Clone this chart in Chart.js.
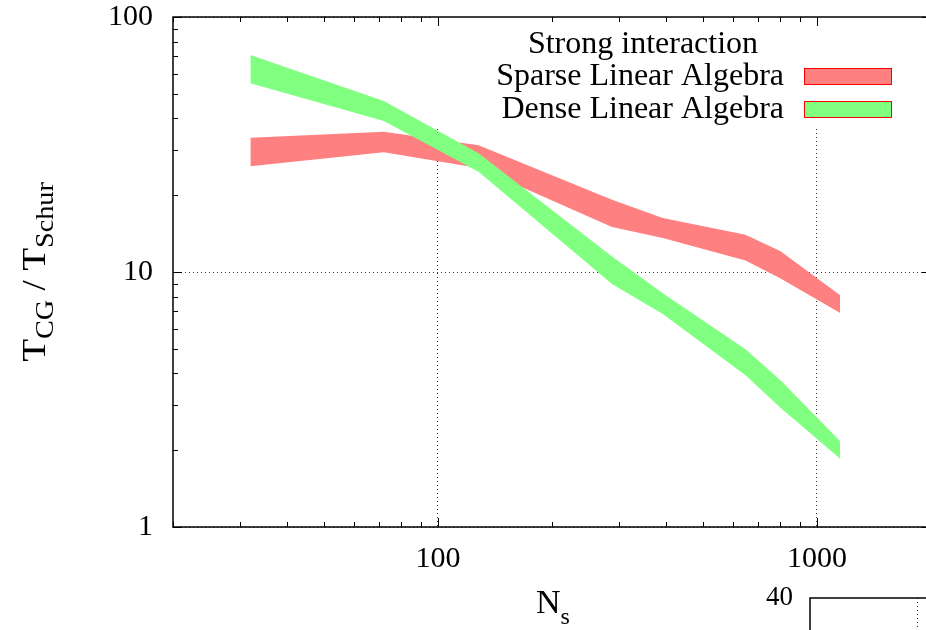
<!DOCTYPE html>
<html>
<head>
<meta charset="utf-8">
<script src="https://cdn.jsdelivr.net/npm/chart.js@4.4.1/dist/chart.umd.min.js"></script>
<style>
html, body { margin: 0; padding: 0; background: #fff; overflow: hidden; }
#wrap { position: relative; width: 926px; height: 630px; overflow: hidden; background: #fff; }
#main { position: absolute; left: 0; top: 0; }
#next { position: absolute; left: 700px; top: 580px; }
</style>
</head>
<body>
<div id="wrap">
  <canvas id="main" width="940" height="630"></canvas>
  <canvas id="next" width="330" height="300"></canvas>
</div>
<script>
// Data
const nsValues    = [32, 72, 128, 288, 392, 648, 800, 1152];
const sparseUpper = [33.6, 35.5, 31.4, 19.2, 16.3, 14.0, 12.1, 8.1];
const sparseLower = [26.0, 29.5, 25.6, 15.0, 13.6, 11.1, 9.45, 6.9];
const denseUpper  = [70.9, 46.8, 29.2, 11.5, 8.25, 4.98, 3.77, 2.17];
const denseLower  = [55.0, 39.1, 24.7, 8.97, 6.84, 3.94, 2.94, 1.85];

const seriesNames = ['Sparse Linear Algebra', 'Dense Linear Algebra'];
const legendTitle = 'Strong interaction';
const xRange = [20, 2000];
const yRange = [1, 100];

const sparseColor = 'rgb(255,128,128)';
const denseColor  = 'rgb(128,255,128)';
const SERIF = '"Liberation Serif", "Times New Roman", serif';

const isDecade = v => Math.abs(Math.log10(v) - Math.round(Math.log10(v))) < 1e-9;

function logTicks(min, max) {
  const out = [];
  for (let e = Math.floor(Math.log10(min)); e <= Math.ceil(Math.log10(max)); e++) {
    for (let s = 1; s < 10; s++) {
      const v = s * Math.pow(10, e);
      if (v >= min - 1e-9 && v <= max + 1e-9) out.push({ value: v, major: s === 1 });
    }
  }
  return out;
}

function band(values, color, fillTo) {
  return {
    data: nsValues.map((n, i) => ({ x: n, y: values[i] })),
    backgroundColor: color,
    borderColor: 'rgba(0,0,0,0)',
    borderWidth: 0,
    pointRadius: 0,
    fill: fillTo
  };
}

// draws text with a subscript part, stretched a bit along the line
function drawSub(ctx, parts, x, y, stretch) {
  let total = 0;
  parts.forEach(p => { ctx.font = p.size + 'px ' + SERIF; total += ctx.measureText(p.t).width; });
  ctx.save();
  ctx.translate(x, y);
  ctx.scale(stretch, 1);
  let cx = -total / 2;
  parts.forEach(p => {
    ctx.font = p.size + 'px ' + SERIF;
    ctx.fillText(p.t, cx, p.dy || 0);
    cx += ctx.measureText(p.t).width;
  });
  ctx.restore();
}

const keyBoxPlugin = {
  id: 'keyBox',
  beforeDatasetsDraw(chart) {
    const { ctx, chartArea: a } = chart;
    ctx.save();
    ctx.fillStyle = '#fff';
    ctx.fillRect(430, a.top, a.right - 430, 126 - a.top);
    ctx.restore();
  }
};

const framePlugin = {
  id: 'frame',
  afterDraw(chart) {
    const { ctx, chartArea: a, scales: { x, y } } = chart;
    ctx.save();
    ctx.strokeStyle = '#000';
    ctx.lineWidth = 1;
    ctx.beginPath();
    x.ticks.forEach(t => {
      const px = Math.round(x.getPixelForValue(t.value)) + 0.5;
      const len = isDecade(t.value) ? 9 : 5;
      ctx.moveTo(px, a.bottom); ctx.lineTo(px, a.bottom - len);
      ctx.moveTo(px, a.top); ctx.lineTo(px, a.top + len);
    });
    y.ticks.forEach(t => {
      const py = Math.round(y.getPixelForValue(t.value)) + 0.5;
      const len = isDecade(t.value) ? 9 : 5;
      ctx.moveTo(a.left, py); ctx.lineTo(a.left + len, py);
      ctx.moveTo(a.right, py); ctx.lineTo(a.right - len, py);
    });
    ctx.stroke();
    ctx.lineWidth = 1.5;
    ctx.strokeRect(a.left, a.top, a.right - a.left, a.bottom - a.top);

    // axis titles
    ctx.fillStyle = '#000';
    ctx.textBaseline = 'alphabetic';
    ctx.textAlign = 'left';
    drawSub(ctx, [{ t: 'N', size: 34 }, { t: 's', size: 24, dy: 11 }], 553, 613, 1);

    ctx.save();
    ctx.translate(45, (a.top + a.bottom) / 2);
    ctx.rotate(-Math.PI / 2);
    drawSub(ctx, [
      { t: 'T', size: 33 }, { t: 'CG', size: 25, dy: 8 },
      { t: ' / T', size: 33 }, { t: 'Schur', size: 25, dy: 8 }
    ], 0, 0, 1.13);
    ctx.restore();

    // key
    ctx.font = '32px ' + SERIF;
    ctx.textAlign = 'center';
    ctx.fillText(legendTitle, a.right - 288, a.top + 36);
    ctx.textAlign = 'right';
    const colors = [sparseColor, denseColor];
    seriesNames.forEach((name, i) => {
      const base = a.top + 68 + i * 33;
      ctx.fillText(name, a.right - 147, base);
      ctx.fillStyle = colors[i];
      ctx.fillRect(a.right - 127, base - 17, 88, 17);
      ctx.strokeStyle = '#f00';
      ctx.lineWidth = 1;
      ctx.strokeRect(a.right - 127 + 0.5, base - 17 + 0.5, 87, 16);
      ctx.fillStyle = '#000';
    });
    ctx.restore();
  }
};

const tickFont = { family: SERIF, size: 30 };

new Chart(document.getElementById('main'), {
  type: 'line',
  data: {
    datasets: [
      band(denseUpper, denseColor, 1),
      band(denseLower, denseColor, false),
      band(sparseUpper, sparseColor, 3),
      band(sparseLower, sparseColor, false)
    ]
  },
  options: {
    responsive: false,
    animation: false,
    devicePixelRatio: 1,
    layout: { padding: { top: 17, right: 9, left: 0, bottom: 0 } },
    plugins: { legend: { display: false }, tooltip: { enabled: false } },
    elements: { line: { tension: 0 } },
    scales: {
      x: {
        type: 'logarithmic',
        min: xRange[0], max: xRange[1],
        afterBuildTicks: s => { s.ticks = logTicks(xRange[0], xRange[1]); },
        afterFit: s => { s.height = 103; s.paddingLeft = 0; s.paddingRight = 0; },
        grid: {
          drawTicks: false,
          color: c => (c.tick && isDecade(c.tick.value)) ? '#333' : 'rgba(0,0,0,0)',
          lineWidth: 1
        },
        border: { display: false, dash: [1, 3] },
        ticks: {
          autoSkip: false, maxRotation: 0, padding: 14,
          color: '#000', font: tickFont,
          callback: v => isDecade(v) ? String(v) : ''
        }
      },
      y: {
        type: 'logarithmic',
        min: yRange[0], max: yRange[1],
        afterBuildTicks: s => { s.ticks = logTicks(yRange[0], yRange[1]); },
        afterFit: s => { s.width = 173; s.paddingTop = 0; s.paddingBottom = 0; },
        grid: {
          drawTicks: false,
          color: c => (c.tick && isDecade(c.tick.value)) ? '#333' : 'rgba(0,0,0,0)',
          lineWidth: 1
        },
        border: { display: false, dash: [1, 3] },
        ticks: {
          autoSkip: false, padding: 20,
          color: '#000', font: tickFont,
          callback: v => isDecade(v) ? String(v) : ''
        }
      }
    }
  },
  plugins: [keyBoxPlugin, framePlugin]
});

// next panel of the figure, cut off at the bottom right
const nextFrame = {
  id: 'nextFrame',
  afterDraw(chart) {
    const { ctx, chartArea: a } = chart;
    ctx.save();
    ctx.strokeStyle = '#000';
    ctx.lineWidth = 1.5;
    ctx.strokeRect(a.left, a.top, a.right - a.left, a.bottom - a.top);
    ctx.restore();
  }
};

new Chart(document.getElementById('next'), {
  type: 'line',
  data: { datasets: [] },
  options: {
    responsive: false,
    animation: false,
    devicePixelRatio: 1,
    layout: { padding: { top: 18, right: 6, left: 0, bottom: 0 } },
    plugins: { legend: { display: false }, tooltip: { enabled: false } },
    scales: {
      x: {
        type: 'linear', min: 0, max: 2,
        afterFit: s => { s.height = 20; s.paddingLeft = 0; s.paddingRight = 0; },
        ticks: { display: false, stepSize: 1 },
        grid: {
          drawTicks: false,
          color: c => (c.tick && c.tick.value === 1) ? '#333' : 'rgba(0,0,0,0)'
        },
        border: { display: false, dash: [1, 3] }
      },
      y: {
        type: 'linear', min: 0, max: 40,
        afterFit: s => { s.width = 110; s.paddingTop = 0; s.paddingBottom = 0; },
        ticks: {
          stepSize: 10, padding: 17, color: '#000',
          font: { family: SERIF, size: 27 },
          callback: v => v === 40 ? String(v) : ''
        },
        grid: { drawTicks: false, color: 'rgba(0,0,0,0)' },
        border: { display: false }
      }
    }
  },
  plugins: [nextFrame]
});
</script>
</body>
</html>
